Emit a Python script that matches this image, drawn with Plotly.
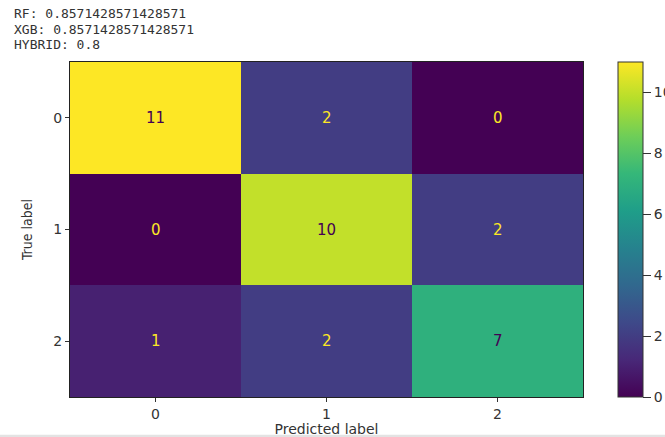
import plotly.graph_objects as go

# Confusion matrix of the hybrid model
class_labels = ["0", "1", "2"]
confusion = [
    [11, 2, 0],
    [0, 10, 2],
    [1, 2, 7],
]
scores_names = ["RF", "XGB", "HYBRID"]
scores_values = ["0.8571428571428571", "0.8571428571428571", "0.8"]
cbar_ticks = [0, 2, 4, 6, 8, 10]

zmin = 0
zmax = max(max(r) for r in confusion)
dark_text = "#440154"
light_text = "#fde725"
ink = "#333333"

fig = go.Figure(
    go.Heatmap(
        z=confusion,
        x=class_labels,
        y=class_labels,
        colorscale="Viridis",
        zmin=zmin,
        zmax=zmax,
        colorbar=dict(
            x=1.048,
            xanchor="left",
            y=0.5,
            len=1.0,
            lenmode="fraction",
            ypad=0,
            thickness=25,
            thicknessmode="pixels",
            outlinewidth=1,
            outlinecolor=ink,
            tickvals=cbar_ticks,
            ticks="outside",
            ticklen=8,
            tickcolor=ink,
            tickfont=dict(family="DejaVu Sans", size=14, color=ink),
        ),
        hoverinfo="skip",
    )
)

# Cell counts, dark text on bright cells and bright text on dark cells
threshold = (zmin + zmax) / 2
for i, row in enumerate(confusion):
    for j, v in enumerate(row):
        fig.add_annotation(
            x=class_labels[j],
            y=class_labels[i],
            text=str(v),
            showarrow=False,
            font=dict(family="DejaVu Sans", size=15,
                      color=dark_text if v > threshold else light_text),
        )

# Accuracy summary above the matrix, one line per model
for k, (n, v) in enumerate(zip(scores_names, scores_values)):
    fig.add_annotation(
        xref="paper", yref="paper",
        x=-0.113, y=1.146 - k * 0.0475,
        xanchor="left", yanchor="middle",
        showarrow=False,
        text=f"{n}: {v}",
        font=dict(family="DejaVu Sans Mono", size=13, color=ink),
    )

axis_common = dict(
    showline=True,
    linecolor="#222222",
    linewidth=1,
    mirror=True,
    ticks="outside",
    ticklen=4,
    tickcolor=ink,
    tickfont=dict(family="DejaVu Sans", size=14, color=ink),
    showgrid=False,
    zeroline=False,
)

fig.update_layout(
    width=665,
    height=437,
    margin=dict(l=70, r=82, t=62, b=40, autoexpand=False),
    paper_bgcolor="white",
    plot_bgcolor="white",
    xaxis=dict(
        **axis_common,
        title=dict(text="Predicted label", standoff=0,
                   font=dict(family="DejaVu Sans", size=14, color=ink)),
    ),
    yaxis=dict(
        **axis_common,
        autorange="reversed",
        title=dict(text="True label", standoff=17,
                   font=dict(family="DejaVu Sans Condensed", size=14, color=ink)),
    ),
    shapes=[
        dict(type="rect", xref="paper", yref="paper",
             x0=-0.3, x1=1.4, y0=-0.113, y1=-0.2,
             fillcolor="#e3e3e3", line=dict(width=0), layer="below"),
    ],
)

fig.write_html("out.html")
